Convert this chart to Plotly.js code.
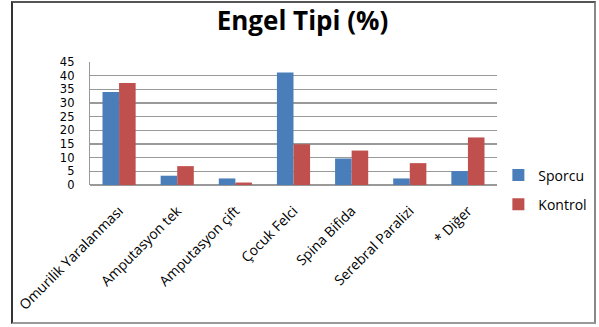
<!DOCTYPE html>
<html>
<head>
<meta charset="utf-8">
<script src="https://cdn.plot.ly/plotly-3.0.1.min.js"></script>
<style>
  html, body { margin: 0; padding: 0; background: #fff; }
  #wrap { position: relative; width: 599px; height: 327px; }
  #chart { position: absolute; left: 0; top: 0; width: 599px; height: 327px; }
  #frame { position: absolute; left: 11px; top: 1px; width: 581px; height: 319px;
           border-left: 2px solid #333; border-top: 2px solid #555;
           border-right: 2px solid #888; border-bottom: 2px solid #999; pointer-events: none; }
</style>
</head>
<body>
<div id="wrap">
  <div id="chart"></div>
  <div id="frame"></div>
</div>
<script>
const categories = ["Omurilik Yaralanması", "Amputasyon tek", "Amputasyon çift", "Çocuk Felci", "Spina Bifida", "Serebral Paralizi", "* Diğer"];
const sporcu = [34, 3.4, 2.4, 41.2, 9.7, 2.4, 5.1];
const kontrol = [37.3, 6.9, 0.9, 14.9, 12.6, 8.0, 17.4];
const yTicks = [0, 5, 10, 15, 20, 25, 30, 35, 40, 45];

const data = [
  { type: "bar", name: "Sporcu", x: categories, y: sporcu, legendgroup: "a",
    marker: { color: "#4A7EBB", line: { width: 0 } } },
  { type: "bar", name: "Kontrol", x: categories, y: kontrol, legendgroup: "b",
    marker: { color: "#C0504D", line: { width: 0 } } }
];

const layout = {
  width: 599, height: 327,
  margin: { l: 90, r: 102, t: 62, b: 142 },
  paper_bgcolor: "rgba(0,0,0,0)", plot_bgcolor: "#fff",
  title: { text: "<b>Engel Tipi (%)</b>", x: 0.505, xref: "container", xanchor: "center",
           y: 0.935, yref: "container", yanchor: "middle",
           font: { family: "Open Sans, sans-serif", size: 26, color: "#000" } },
  barmode: "group", bargap: 0.43, bargroupgap: 0,
  font: { family: "Open Sans, sans-serif", color: "#000" },
  xaxis: { tickangle: -45, tickfont: { size: 14, color: "#000" }, showgrid: false,
           showline: false, ticks: "", ticklabelstandoff: 14, automargin: false },
  yaxis: { range: [0, 45], tickvals: yTicks, ticktext: yTicks.map(String), showgrid: true,
           gridcolor: "#999", gridwidth: 1.2, showline: true, linecolor: "#999", linewidth: 1.2,
           zeroline: true, zerolinecolor: "#999", zerolinewidth: 1.2,
           tickfont: { family: "DejaVu Sans, sans-serif", size: 11.5, color: "#000" },
           ticks: "", ticklen: 0, ticklabelstandoff: 12, automargin: false },
  legend: { xref: "container", yref: "container", x: 0.832, y: 0.419, xanchor: "left", yanchor: "middle",
            tracegroupgap: 8, itemwidth: 30, traceorder: "grouped",
            font: { size: 14, color: "#000" }, bgcolor: "rgba(0,0,0,0)" },
  showlegend: true
};

Plotly.newPlot("chart", data, layout, { staticPlot: true, displayModeBar: false });
</script>
</body>
</html>
